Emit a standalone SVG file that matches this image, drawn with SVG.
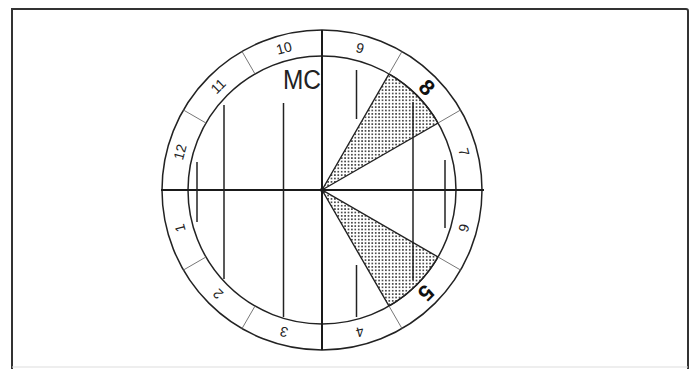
<svg xmlns="http://www.w3.org/2000/svg" width="696" height="370" viewBox="0 0 696 370">
<style>
.frame{fill:none;stroke:#333;stroke-width:2}
.ring{fill:none;stroke:#222;stroke-width:1.5}
.div{stroke:#777;stroke-width:1}
.axis{stroke:#1a1a1a;stroke-width:2}
.bar{stroke:#222;stroke-width:1.5}
.edge{stroke:#222;stroke-width:1.4;fill:url(#dots)}
.num{font-family:"Liberation Sans",Arial,sans-serif;font-size:14px;fill:#222;text-anchor:middle;dominant-baseline:central}
.big{font-family:"Liberation Sans",Arial,sans-serif;font-size:22px;font-weight:bold;fill:#111;text-anchor:middle;dominant-baseline:central}
.mc{font-family:"Liberation Sans",Arial,sans-serif;font-size:27px;fill:#222;text-anchor:end}
</style>
<defs>
<pattern id="dots" width="3.4" height="3.4" patternUnits="userSpaceOnUse">
<rect width="3.4" height="3.4" fill="#fff"/>
<circle cx="1.7" cy="1.7" r="0.9" fill="#222"/>
</pattern>
</defs>
<rect width="696" height="370" fill="#fff"/>
<g id="frame">
<path class="frame" d="M12,369 V9 H686 Q688,9 688,11 V369"/>
<line x1="12" y1="367" x2="688" y2="367" stroke="#ddd" stroke-width="1"/>
</g>
<g id="wedges">
<path id="wedge-8" class="edge" d="M322,190 L438.05,123 A134,134 0 0,0 389,73.95 Z"/>
<path id="wedge-5" class="edge" d="M322,190 L389,306.05 A134,134 0 0,0 438.05,257 Z"/>
</g>
<g id="wheel">
<circle class="ring" cx="322" cy="190" r="160"/>
<circle class="ring" cx="322" cy="190" r="134"/>
</g>
<g id="connectors">
<line class="axis" x1="161" y1="190" x2="484" y2="190"/>
<line class="axis" x1="322" y1="30" x2="322" y2="350" stroke-width="1.6"/>
<line class="div" x1="438.05" y1="123" x2="460.56" y2="110"/>
<line class="div" x1="389" y1="73.95" x2="402" y2="51.44"/>
<line class="div" x1="255" y1="73.95" x2="242" y2="51.44"/>
<line class="div" x1="205.95" y1="123" x2="183.44" y2="110"/>
<line class="div" x1="205.95" y1="257" x2="183.44" y2="270"/>
<line class="div" x1="255" y1="306.05" x2="242" y2="328.56"/>
<line class="div" x1="389" y1="306.05" x2="402" y2="328.56"/>
<line class="div" x1="438.05" y1="257" x2="460.56" y2="270"/>
</g>
<g id="bars">
<line class="bar" x1="197" y1="162" x2="197" y2="222"/>
<line class="bar" x1="224" y1="105" x2="224" y2="279"/>
<line class="bar" x1="283.5" y1="103" x2="283.5" y2="317"/>
<line class="bar" x1="356.5" y1="70" x2="356.5" y2="119"/>
<line class="bar" x1="356.5" y1="265" x2="356.5" y2="317"/>
<line class="bar" x1="413" y1="102" x2="413" y2="280"/>
<line class="bar" x1="445" y1="160" x2="445" y2="228"/>
</g>
<g id="labels">
<text class="num" transform="translate(283.95,48) rotate(-15)">10</text>
<text class="num" transform="translate(360.05,48) rotate(15)">9</text>
<text class="num" transform="translate(218.06,86.06) rotate(-45)">11</text>
<text class="num" transform="translate(180,151.95) rotate(-75)">12</text>
<text class="num" transform="translate(180,228.05) rotate(-105)">1</text>
<text class="num" transform="translate(218.06,293.94) rotate(-135)">2</text>
<text class="num" transform="translate(283.95,332) rotate(-165)">3</text>
<text class="num" transform="translate(360.05,332) rotate(165)">4</text>
<text class="num" transform="translate(464,228.05) rotate(105)">6</text>
<text class="num" transform="translate(464,151.95) rotate(75)">7</text>
<text class="big" transform="translate(427,87.5) rotate(45)">8</text>
<text class="big" transform="translate(426,293) rotate(135)">5</text>
<text class="mc" x="321" y="89" textLength="38" lengthAdjust="spacingAndGlyphs">MC</text>
</g>
</svg>
